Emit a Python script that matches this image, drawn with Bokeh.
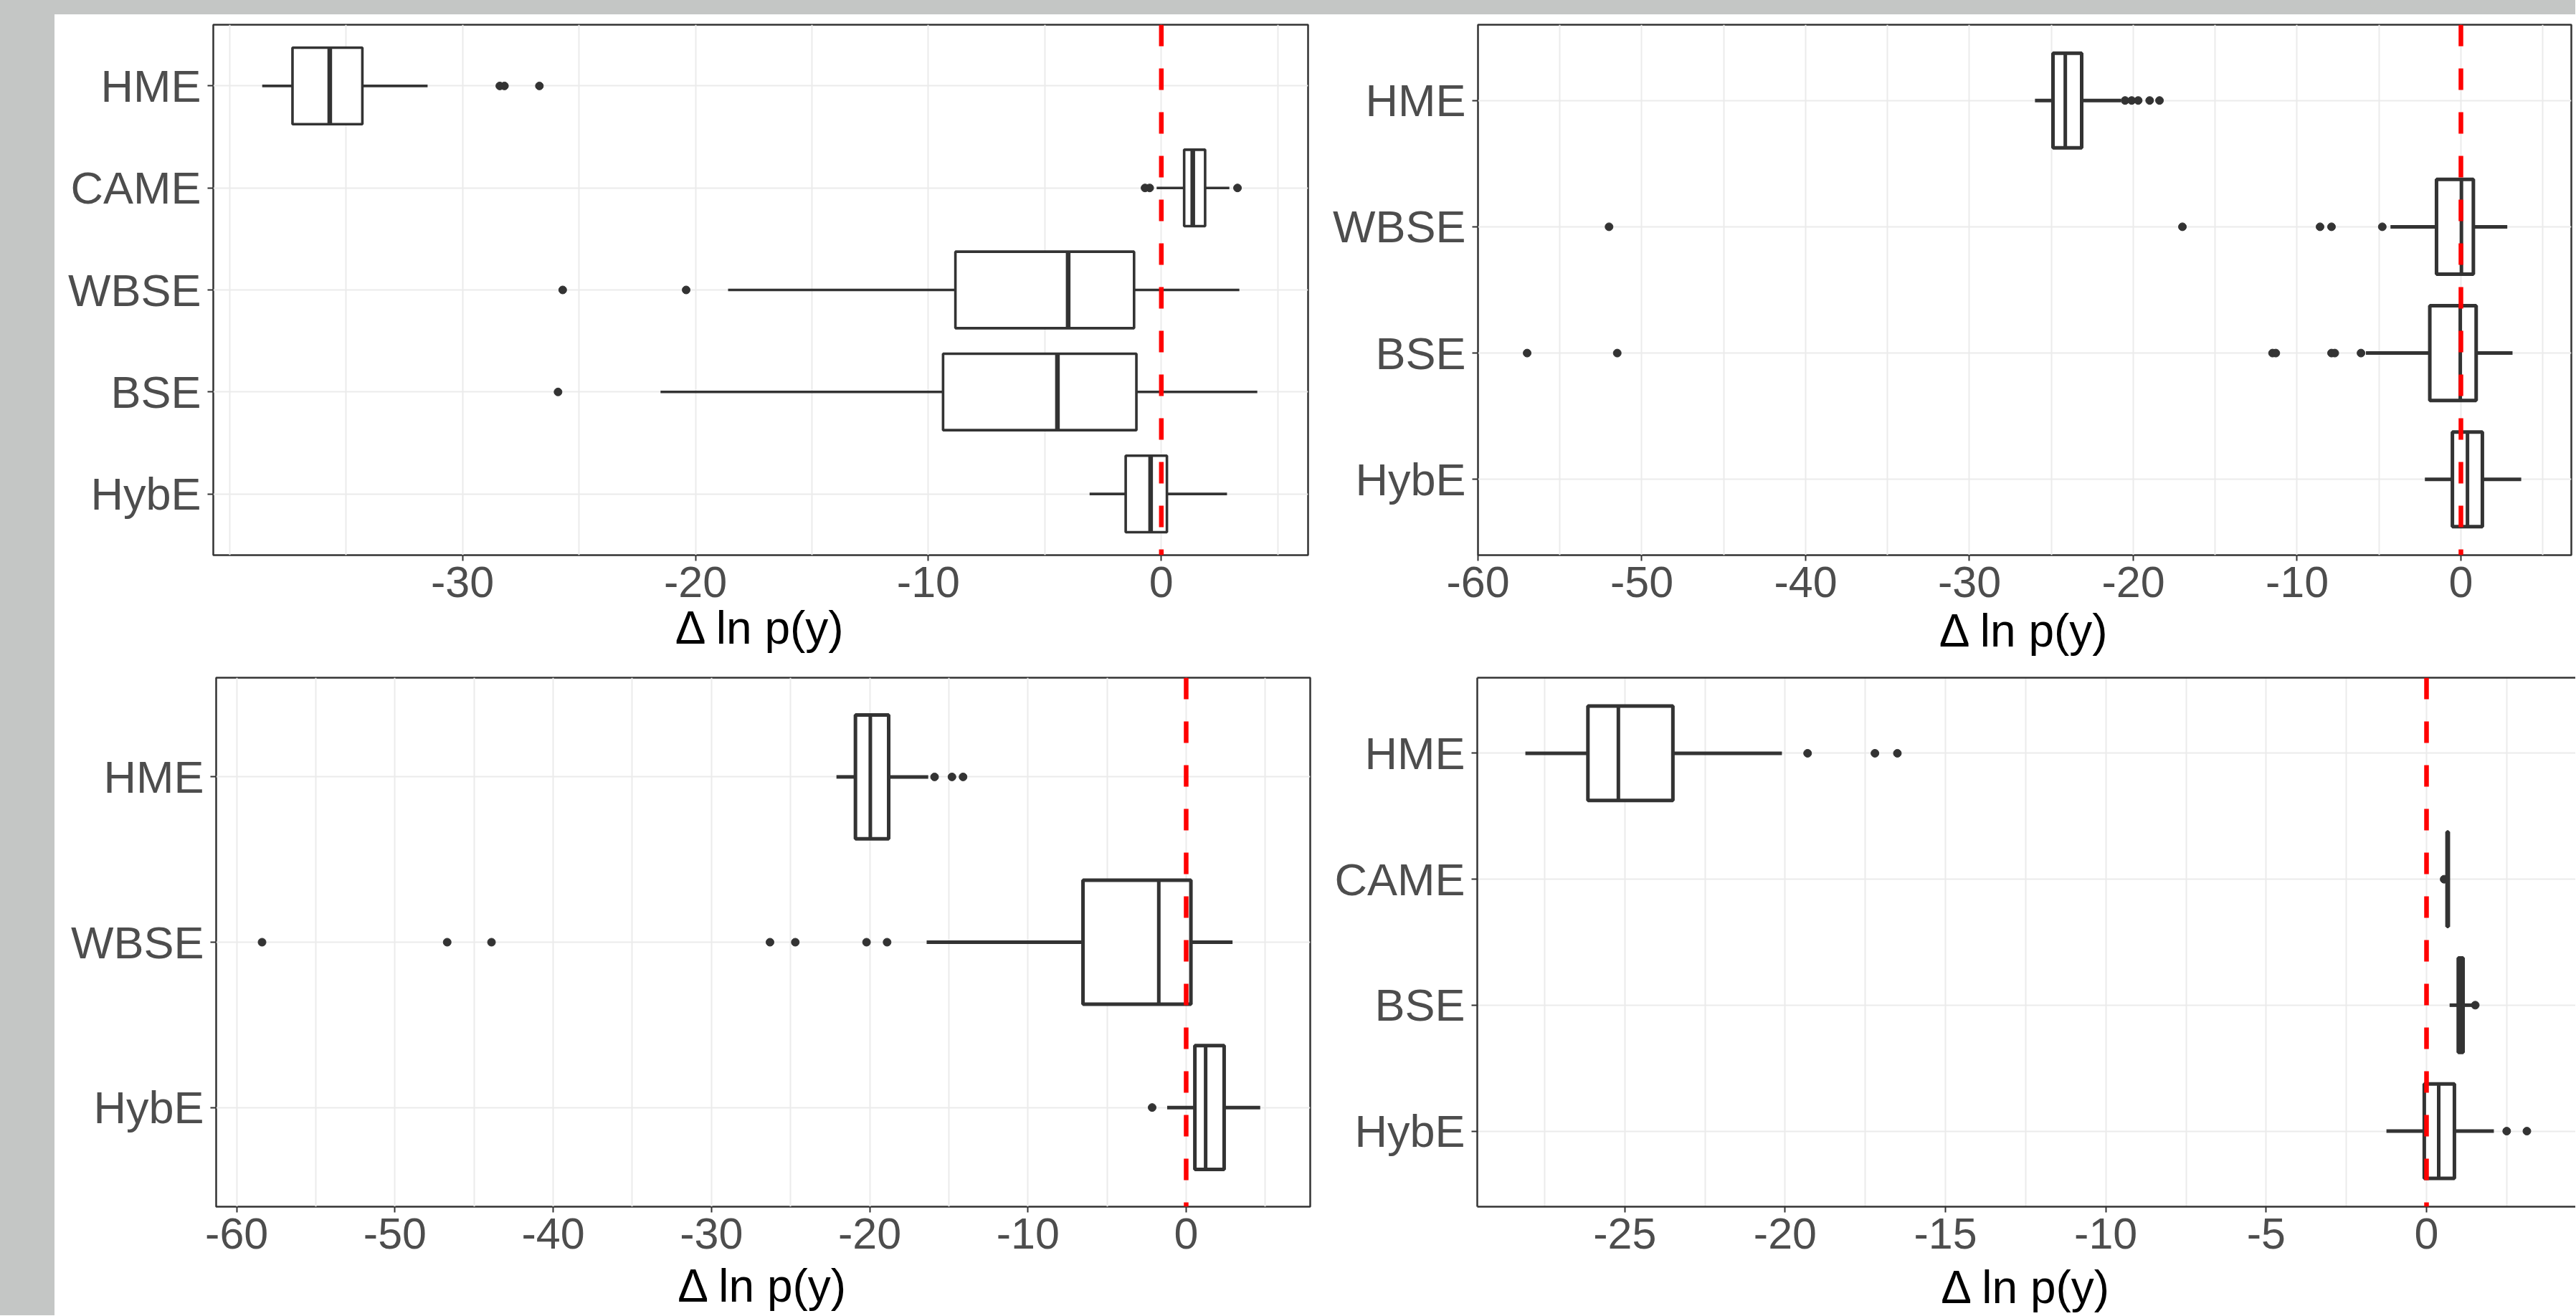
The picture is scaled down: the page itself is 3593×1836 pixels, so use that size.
from bokeh.plotting import figure
from bokeh.models import Range1d, FixedTicker, Span, Spacer, LinearAxis
from bokeh.layouts import row, column
from bokeh.embed import file_html
from bokeh.resources import INLINE

# ---------------- data ----------------
# top-left panel
TL_CATS = ["HME", "CAME", "WBSE", "BSE", "HybE"]
TL_WLO = [-38.6, -0.2, -18.6, -21.5, -3.08]
TL_Q1 = [-37.3, 0.98, -8.84, -9.37, -1.53]
TL_MED = [-35.7, 1.35, -4.0, -4.46, -0.46]
TL_Q3 = [-34.3, 1.88, -1.17, -1.07, 0.24]
TL_WHI = [-31.5, 2.92, 3.35, 4.12, 2.82]
TL_OUT_CAT = ["HME", "HME", "HME", "CAME", "CAME", "CAME", "WBSE", "WBSE", "BSE"]
TL_OUT_VAL = [-28.4, -28.2, -26.7, -0.7, -0.5, 3.27, -25.7, -20.4, -25.9]
TL_XTICKS = [-30, -20, -10, 0]
TL_XMINOR = [-40, -35, -25, -15, -5, 5]

# top-right panel
TR_CATS = ["HME", "WBSE", "BSE", "HybE"]
TR_WLO = [-26.0, -4.3, -5.8, -2.2]
TR_Q1 = [-24.9, -1.49, -1.9, -0.52]
TR_MED = [-24.15, 0.03, -0.04, 0.4]
TR_Q3 = [-23.15, 0.76, 0.93, 1.31]
TR_WHI = [-20.75, 2.83, 3.15, 3.68]
TR_OUT_CAT = ["HME"] * 5 + ["WBSE"] * 5 + ["BSE"] * 7
TR_OUT_VAL = [-20.5, -20.1, -19.7, -19.0, -18.4,
              -52.0, -17.0, -8.6, -7.9, -4.8,
              -57.0, -51.5, -11.5, -11.3, -7.9, -7.7, -6.1]
TR_XTICKS = [-60, -50, -40, -30, -20, -10, 0]
TR_XMINOR = [-55, -45, -35, -25, -15, -5, 5]

# bottom-left panel
BL_CATS = ["HME", "WBSE", "HybE"]
BL_WLO = [-22.1, -16.4, -1.2]
BL_Q1 = [-20.9, -6.52, 0.55]
BL_MED = [-19.96, -1.73, 1.23]
BL_Q3 = [-18.8, 0.3, 2.4]
BL_WHI = [-16.3, 2.93, 4.68]
BL_OUT_CAT = ["HME"] * 3 + ["WBSE"] * 7 + ["HybE"]
BL_OUT_VAL = [-15.9, -14.8, -14.1,
              -58.4, -46.7, -43.9, -26.3, -24.7, -20.2, -18.9,
              -2.15]
BL_XTICKS = [-60, -50, -40, -30, -20, -10, 0]
BL_XMINOR = [-55, -45, -35, -25, -15, -5, 5]

# bottom-right panel
BR_CATS = ["HME", "CAME", "BSE", "HybE"]
BR_WLO = [-28.1, 0.62, 0.72, -1.25]
BR_Q1 = [-26.15, 0.64, 0.99, -0.07]
BR_MED = [-25.2, 0.66, 1.05, 0.38]
BR_Q3 = [-23.5, 0.68, 1.14, 0.87]
BR_WHI = [-20.1, 0.7, 1.47, 2.1]
BR_OUT_CAT = ["HME"] * 3 + ["CAME", "BSE", "HybE", "HybE"]
BR_OUT_VAL = [-19.3, -17.2, -16.5, 0.55, 1.52, 2.5, 3.13]
BR_XTICKS = [-25, -20, -15, -10, -5, 0]
BR_XMINOR = [-27.5, -22.5, -17.5, -12.5, -7.5, -2.5, 2.5]

X_TITLE = "Δ ln p(y)"

# ---------------- style ----------------
DARK = "#333333"
TICK_TXT = "#4D4D4D"
GRID = "#EBEBEB"
FONT = "Liberation Sans"
BG_GRAY = "#c4c6c5"


def panel(cats, wlo, q1, med, q3, whi, out_cat, out_val, xr, xticks, xminor,
          size, borders, lw, med_lw, dot, title_gap, outline=True):
    n = len(cats)
    pos = [n - 1 - i for i in range(n)]
    lookup = dict(zip(cats, pos))
    bl, br, bt, bb = borders
    p = figure(width=size[0], height=size[1],
               min_border_left=bl, min_border_right=br,
               min_border_top=bt, min_border_bottom=bb,
               x_range=Range1d(*xr), y_range=Range1d(-0.6, n - 1 + 0.6),
               output_backend="svg", toolbar_location=None,
               background_fill_color="white", border_fill_color="white")

    # axes
    xt = FixedTicker(ticks=xticks, minor_ticks=xminor)
    yt = FixedTicker(ticks=pos)
    p.xaxis.ticker = xt
    p.yaxis.ticker = yt
    p.xgrid.ticker = xt
    p.ygrid.ticker = yt
    p.yaxis.major_label_overrides = {k: c for c, k in lookup.items()}
    p.xaxis.major_label_overrides = {t: str(t) for t in xticks}
    for ax in (p.xaxis, p.yaxis):
        ax.major_label_text_font = FONT
        ax.major_label_text_color = TICK_TXT
        ax.major_tick_line_color = DARK
        ax.major_tick_line_width = 2
        ax.major_tick_in = 0
        ax.major_tick_out = 8
        ax.minor_tick_line_color = None
        ax.axis_line_color = DARK if not outline else None
        ax.axis_line_width = 2.5
    p.xaxis.major_label_text_font_size = "61px"
    p.yaxis.major_label_text_font_size = "63px"
    p.xaxis.major_label_standoff = 8
    p.yaxis.major_label_standoff = 9

    p.xaxis.axis_label = X_TITLE
    p.xaxis.axis_label_text_font = FONT
    p.xaxis.axis_label_text_font_size = "64px"
    p.xaxis.axis_label_text_font_style = "normal"
    p.xaxis.axis_label_text_color = "black"
    p.xaxis.axis_label_standoff = title_gap

    p.xgrid.grid_line_color = GRID
    p.xgrid.grid_line_width = 2
    p.xgrid.minor_grid_line_color = GRID
    p.xgrid.minor_grid_line_width = 2
    p.ygrid.grid_line_color = GRID
    p.ygrid.grid_line_width = 2

    if outline:
        p.outline_line_color = DARK
        p.outline_line_width = 2.5
    else:
        p.outline_line_color = None
        top = LinearAxis(ticker=FixedTicker(ticks=[]), axis_line_color=DARK,
                         axis_line_width=2.5, major_tick_line_color=None,
                         minor_tick_line_color=None, major_tick_out=0,
                         major_label_standoff=0,
                         major_label_text_font_size="0px")
        p.add_layout(top, "above")

    # outliers
    p.scatter(x=out_val, y=[lookup[c] for c in out_cat], size=dot,
              marker="circle", fill_color=DARK, line_color=DARK)
    # whiskers
    p.segment(x0=wlo, y0=pos, x1=q1, y1=pos, line_color=DARK, line_width=lw)
    p.segment(x0=q3, y0=pos, x1=whi, y1=pos, line_color=DARK, line_width=lw)
    # boxes
    p.hbar(y=pos, left=q1, right=q3, height=0.75, fill_color="white",
           line_color=DARK, line_width=lw)
    # medians
    half = 0.75 / 2
    p.segment(x0=med, y0=[v - half for v in pos], x1=med,
              y1=[v + half for v in pos], line_color=DARK, line_width=med_lw)

    # reference line at zero
    p.add_layout(Span(location=0, dimension="height", line_color="#FF0000",
                      line_width=6.5, line_dash="30 31"))
    return p


# layout: page origin at (0, 0); gray bands 20 px on top, 76 px on the left
tl = panel(TL_CATS, TL_WLO, TL_Q1, TL_MED, TL_Q3, TL_WHI, TL_OUT_CAT, TL_OUT_VAL,
           (-40.7, 6.3), TL_XTICKS, TL_XMINOR, (1764, 905), (221, 16, 14, 149),
           3.6, 6.5, 11, 4)
tr = panel(TR_CATS, TR_WLO, TR_Q1, TR_MED, TR_Q3, TR_WHI, TR_OUT_CAT, TR_OUT_VAL,
           (-60.0, 6.74), TR_XTICKS, TR_XMINOR, (1752, 905), (221, 6, 13, 151),
           5, 5, 11, 8)
bl = panel(BL_CATS, BL_WLO, BL_Q1, BL_MED, BL_Q3, BL_WHI, BL_OUT_CAT, BL_OUT_VAL,
           (-61.3, 7.84), BL_XTICKS, BL_XMINOR, (1764, 910), (225, 13, 18, 152),
           5, 5, 11, 13)
br = panel(BR_CATS, BR_WLO, BR_Q1, BR_MED, BR_Q3, BR_WHI, BR_OUT_CAT, BR_OUT_VAL,
           (-29.6, 4.65), BR_XTICKS, BR_XMINOR, (1752, 910), (220, 0, 20, 147),
           5, 5, 11, 15, outline=False)

top_band = Spacer(width=3592, height=20, styles={"background-color": BG_GRAY})
left_band = Spacer(width=76, height=1815, styles={"background-color": BG_GRAY})

layout = column(top_band,
                row(left_band, column(row(tl, tr), row(bl, br))))

open("out.html", "w").write(file_html(layout, INLINE))
